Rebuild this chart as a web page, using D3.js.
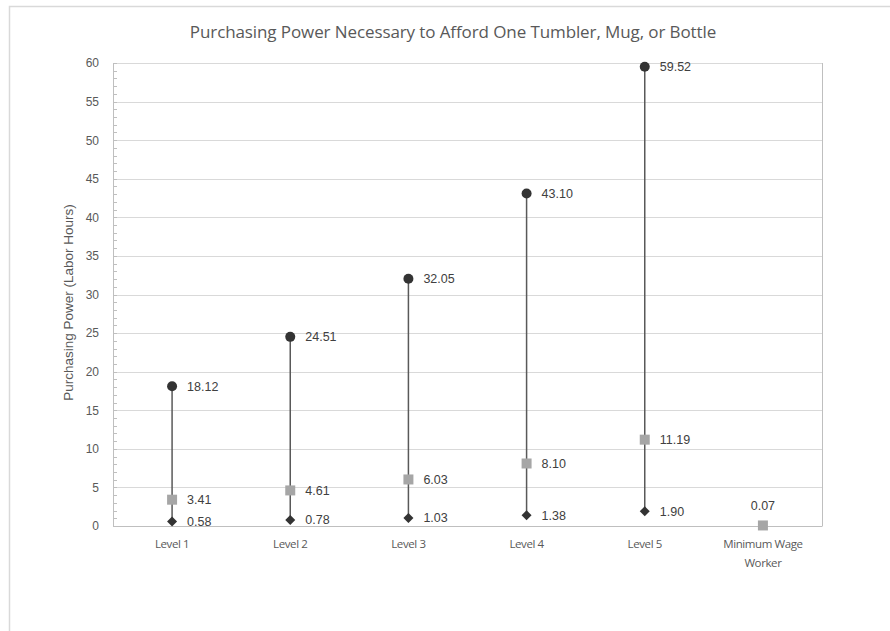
<!DOCTYPE html>
<html>
<head>
<meta charset="utf-8">
<script src="https://cdn.jsdelivr.net/npm/d3@7"></script>
<style>
  body { margin: 0; background: #fff; }
  svg { display: block; font-family: "Liberation Sans", Arial, sans-serif; }
</style>
</head>
<body>
<div id="chart"></div>
<script>
// data
const categories = ["Level 1", "Level 2", "Level 3", "Level 4", "Level 5", "Minimum Wage Worker"];
const maxHours = [18.12, 24.51, 32.05, 43.10, 59.52, null];
const midHours = [3.41, 4.61, 6.03, 8.10, 11.19, 0.07];
const minHours = [0.58, 0.78, 1.03, 1.38, 1.90, null];
const yTicks = [0, 5, 10, 15, 20, 25, 30, 35, 40, 45, 50, 55, 60];

const width = 890, height = 631;
const margin = {top: 63, right: 68, bottom: 105, left: 113};
const innerW = width - margin.left - margin.right;
const innerH = height - margin.top - margin.bottom;

const svg = d3.select("#chart").append("svg")
    .attr("width", width)
    .attr("height", height);

// outer frame (only top and left visible in the picture)
svg.append("path")
    .attr("d", `M9.5,${height} V6.5 H${width}`)
    .attr("fill", "none")
    .attr("stroke", "#d9d9d9")
    .attr("stroke-width", 1.5);

svg.append("text")
    .attr("x", 453).attr("y", 38)
    .attr("text-anchor", "middle")
    .attr("fill", "#595959")
    .style("font-family", "'Open Sans', 'Liberation Sans', sans-serif")
    .style("font-size", "17px")
    .style("letter-spacing", "-0.1px")
    .text("Purchasing Power Necessary to Afford One Tumbler, Mug, or Bottle");

const g = svg.append("g").attr("transform", `translate(${margin.left},${margin.top})`);

const x = d3.scaleBand().domain(categories).range([0, innerW]);
const y = d3.scaleLinear().domain([0, 60]).range([innerH, 0]);

// gridlines
g.append("g")
  .selectAll("line")
  .data(yTicks)
  .join("line")
    .attr("x1", 0).attr("x2", innerW)
    .attr("y1", d => Math.round(y(d)) + 0.5).attr("y2", d => Math.round(y(d)) + 0.5)
    .attr("stroke", "#d9d9d9");

// plot border right side
g.append("line")
    .attr("x1", innerW + 0.5).attr("x2", innerW + 0.5)
    .attr("y1", 0).attr("y2", innerH)
    .attr("stroke", "#bfbfbf");

// minor ticks inside the y axis
g.append("g")
  .selectAll("line")
  .data(d3.range(0, 61, 1))
  .join("line")
    .attr("x1", 0).attr("x2", 4)
    .attr("y1", d => Math.round(y(d)) + 0.5).attr("y2", d => Math.round(y(d)) + 0.5)
    .attr("stroke", "#bfbfbf");

// y axis
const yAxis = g.append("g")
    .call(d3.axisLeft(y).tickValues(yTicks).tickSize(0).tickPadding(14));
yAxis.select(".domain").attr("stroke", "#bfbfbf");
yAxis.selectAll("text")
    .attr("fill", "#595959")
    .style("font-size", "12px");

// x axis
const xAxis = g.append("g")
    .attr("transform", `translate(0,${innerH})`)
    .call(d3.axisBottom(x).tickSize(0).tickPadding(14));
xAxis.select(".domain").attr("stroke", "#bfbfbf");
xAxis.selectAll("text")
    .attr("fill", "#595959")
    .style("font-family", "'Open Sans', 'Liberation Sans', sans-serif")
    .style("font-size", "11.5px")
    .style("letter-spacing", "-0.4px")
    .each(function (d) {
      const t = d3.select(this);
      if (d === "Minimum Wage Worker") {
        t.text(null);
        t.append("tspan").attr("x", 0).attr("dy", "0.71em").text("Minimum Wage");
        t.append("tspan").attr("x", 0).attr("dy", "1.65em").text("Worker");
        t.attr("dy", null);
      }
    });

svg.append("text")
    .attr("transform", `translate(73,${margin.top + innerH / 2 + 8}) rotate(-90)`)
    .attr("text-anchor", "middle")
    .attr("fill", "#595959")
    .style("font-size", "13.5px")
    .text("Purchasing Power (Labor Hours)");

const cx = d => x(d) + x.bandwidth() / 2;
const rows = categories.map((c, i) => ({c, max: maxHours[i], mid: midHours[i], min: minHours[i]}));

// high-low lines
g.append("g")
  .selectAll("line")
  .data(rows.filter(d => d.max != null))
  .join("line")
    .attr("x1", d => cx(d.c)).attr("x2", d => cx(d.c))
    .attr("y1", d => y(d.min)).attr("y2", d => y(d.max))
    .attr("stroke", "#595959")
    .attr("stroke-width", 1.5);

// min markers (diamonds)
g.append("g")
  .selectAll("path")
  .data(rows.filter(d => d.min != null))
  .join("path")
    .attr("d", d3.symbol(d3.symbolDiamond2, 64))
    .attr("transform", d => `translate(${cx(d.c)},${y(d.min)})`)
    .attr("fill", "#333");

// mid markers (squares)
g.append("g")
  .selectAll("rect")
  .data(rows)
  .join("rect")
    .attr("x", d => cx(d.c) - 5).attr("y", d => y(d.mid) - 5)
    .attr("width", 10).attr("height", 10)
    .attr("fill", "#a6a6a6");

// max markers (circles)
g.append("g")
  .selectAll("circle")
  .data(rows.filter(d => d.max != null))
  .join("circle")
    .attr("cx", d => cx(d.c)).attr("cy", d => y(d.max))
    .attr("r", 5)
    .attr("fill", "#333");

// data labels
const labels = [];
rows.forEach(d => {
  ["max", "mid", "min"].forEach(k => {
    if (d[k] != null) labels.push({c: d.c, v: d[k], above: d.max == null});
  });
});
g.append("g")
  .selectAll("text")
  .data(labels)
  .join("text")
    .attr("x", d => d.above ? cx(d.c) : cx(d.c) + 15)
    .attr("y", d => d.above ? y(d.v) - 20 : y(d.v))
    .attr("dy", "0.35em")
    .attr("text-anchor", d => d.above ? "middle" : "start")
    .attr("fill", "#404040")
    .style("font-size", "12.5px")
    .text(d => d.v.toFixed(2));
</script>
</body>
</html>
